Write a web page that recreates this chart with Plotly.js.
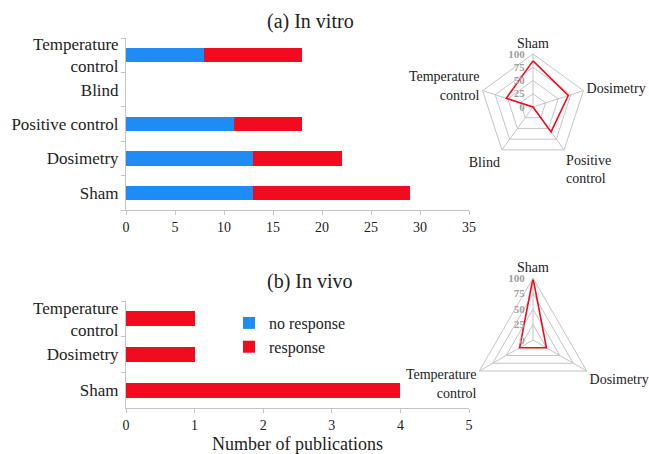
<!DOCTYPE html>
<html>
<head>
<meta charset="utf-8">
<script src="https://cdn.plot.ly/plotly-3.0.1.min.js"></script>
<style>
  html, body { margin: 0; padding: 0; background: #fff; }
  #chart { width: 649px; height: 454px; }
</style>
</head>
<body>
<div id="chart"></div>
<script>
// In vitro studies: publications per quality criterion
const vitroCategories = ["Sham", "Dosimetry", "Positive control", "Blind", "Temperature control"];
const vitroTickText = ["Sham", "Dosimetry", "Positive control", "Blind", "Temperature<br>control"];
const vitroNoResponse = [13, 13, 11, 0, 8];
const vitroResponse = [16, 9, 7, 0, 10];

// In vivo studies
const vivoCategories = ["Sham", "Dosimetry", "Temperature control"];
const vivoTickText = ["Sham", "Dosimetry", "Temperature<br>control"];
const vivoNoResponse = [0, 0, 0];
const vivoResponse = [4, 1, 1];

// Radar charts: share of publications meeting each criterion (%)
const radarVitroLabels = ["Sham", "Dosimetry", "Positive<br>control", "Blind", "Temperature<br>control"];
const radarVitroValues = [87, 70, 58, 0, 53];
const radarVivoLabels = ["Sham", "Dosimetry", "Temperature<br>control"];
const radarVivoValues = [100, 25, 25];

const radialTicks = [0, 25, 50, 75, 100];

const BLUE = "#1f8cf5";
const RED = "#f20a1e";
const AXIS = "#c4c4c4";
const FONT = "Liberation Serif";

const W = 649, H = 454;
const px = (x) => x / W;
const py = (y) => 1 - y / H;

function closeLoop(arr) { return arr.concat([arr[0]]); }
function serif(size, color, weight) {
  return { family: FONT, size: size, color: color || "#222", weight: weight || "normal" };
}

const traces = [
  {
    type: "bar", orientation: "h", name: "no response",
    y: vitroCategories, x: vitroNoResponse,
    marker: { color: BLUE }, xaxis: "x", yaxis: "y"
  },
  {
    type: "bar", orientation: "h", name: "response",
    y: vitroCategories, x: vitroResponse,
    marker: { color: RED }, xaxis: "x", yaxis: "y"
  },
  {
    type: "bar", orientation: "h", name: "no response", showlegend: false,
    y: vivoCategories, x: vivoNoResponse,
    marker: { color: BLUE }, xaxis: "x2", yaxis: "y2"
  },
  {
    type: "bar", orientation: "h", name: "response", showlegend: false,
    y: vivoCategories, x: vivoResponse,
    marker: { color: RED }, xaxis: "x2", yaxis: "y2"
  },
  {
    type: "scatterpolar", mode: "lines", showlegend: false,
    r: closeLoop(radarVitroValues), theta: closeLoop(radarVitroLabels),
    line: { color: RED, width: 1.6 }, subplot: "polar"
  },
  {
    type: "scatterpolar", mode: "lines", showlegend: false,
    r: closeLoop(radarVivoValues), theta: closeLoop(radarVivoLabels),
    line: { color: RED, width: 1.6 }, subplot: "polar2"
  }
];

function barX(range, dtick, domain) {
  return {
    domain: domain, range: range, dtick: dtick,
    showgrid: false, zeroline: false,
    showline: true, linecolor: AXIS, linewidth: 1,
    ticks: "outside", ticklen: 4, tickcolor: AXIS,
    tickfont: serif(14),
    fixedrange: true
  };
}
function barY(domain, cats, text) {
  return {
    domain: domain, type: "category",
    categoryorder: "array", categoryarray: cats,
    tickmode: "array", tickvals: cats, ticktext: text,
    showgrid: false, zeroline: false,
    showline: true, linecolor: AXIS, linewidth: 1,
    ticks: "outside", tickson: "boundaries", ticklen: 4, tickcolor: AXIS,
    ticklabelstandoff: 3,
    tickfont: serif(17),
    fixedrange: true
  };
}
function polar(domainX, domainY, labels) {
  return {
    domain: { x: domainX, y: domainY },
    gridshape: "linear",
    bgcolor: "rgba(0,0,0,0)",
    radialaxis: {
      range: [0, 100], tickvals: radialTicks, angle: 90, side: "counterclockwise",
      tickangle: 90,
      showline: false, ticks: "outside", ticklen: 4, tickcolor: "rgba(0,0,0,0)",
      gridcolor: AXIS, gridwidth: 1,
      tickfont: serif(11, "#a0a0a0", "bold")
    },
    angularaxis: {
      type: "category", categoryarray: labels, rotation: 90, direction: "clockwise",
      gridcolor: AXIS, linecolor: AXIS, linewidth: 1, ticks: "",
      tickfont: serif(14)
    }
  };
}

const layout = {
  width: W, height: H,
  margin: { l: 0, r: 0, t: 0, b: 0 },
  paper_bgcolor: "#fff", plot_bgcolor: "#fff",
  barmode: "stack", bargap: 0.58,
  font: serif(14),
  showlegend: true,
  legend: {
    x: px(229), y: py(306), xanchor: "left", yanchor: "top",
    traceorder: "normal",
    font: serif(16),
    bgcolor: "rgba(0,0,0,0)", tracegroupgap: 0, itemwidth: 30
  },
  xaxis: barX([0, 35], 5, [px(126), px(469)]),
  yaxis: barY([py(210), py(38)], vitroCategories, vitroTickText),
  xaxis2: Object.assign(barX([0, 5], 1, [px(126), px(469)]), {
    anchor: "y2",
    title: { text: "Number of publications", font: serif(18), standoff: 10 }
  }),
  yaxis2: Object.assign(barY([py(408), py(301)], vivoCategories, vivoTickText), { anchor: "x2" }),
  polar: polar([px(480), px(586)], [py(160), py(54)], radarVitroLabels),
  polar2: polar([px(471), px(595)], [py(402), py(278)], radarVivoLabels),
  annotations: [
    { text: "(a) In vitro", xref: "paper", yref: "paper", x: px(310), y: py(21),
      xanchor: "center", yanchor: "middle",
      showarrow: false, font: serif(20) },
    { text: "(b) In vivo", xref: "paper", yref: "paper", x: px(310), y: py(281),
      xanchor: "center", yanchor: "middle",
      showarrow: false, font: serif(20) }
  ]
};

Plotly.newPlot("chart", traces, layout, { displayModeBar: false, staticPlot: true });
</script>
</body>
</html>
